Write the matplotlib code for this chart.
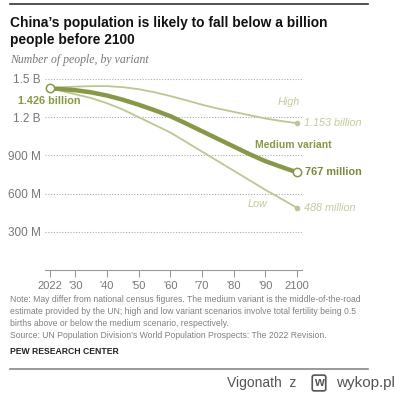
import matplotlib.pyplot as plt

years = [2022, 2025, 2030, 2035, 2040, 2045, 2050, 2055, 2060,
         2065, 2070, 2075, 2080, 2085, 2090, 2095, 2100]
medium = [1.426, 1.422, 1.412, 1.395, 1.37, 1.337, 1.298, 1.255, 1.208,
          1.15, 1.09, 1.03, 0.97, 0.91, 0.855, 0.81, 0.767]
high = [1.426, 1.434, 1.44, 1.444, 1.444, 1.436, 1.42, 1.396, 1.366,
        1.333, 1.298, 1.268, 1.242, 1.216, 1.19, 1.17, 1.153]
low = [1.426, 1.41, 1.38, 1.35, 1.31, 1.26, 1.20, 1.14, 1.08,
       1.005, 0.93, 0.855, 0.78, 0.705, 0.63, 0.56, 0.488]

tick_years = [2022, 2030, 2040, 2050, 2060, 2070, 2080, 2090, 2100]
x_labels = ['2022', "'30", "'40", "'50", "'60", "'70", "'80", "'90", '2100']
y_ticks = [0.3, 0.6, 0.9, 1.2, 1.5]
y_labels = ['300 M', '600 M', '900 M', '1.2 B', '1.5 B']

dark = '#879848'
light = '#bcc692'
light_txt = '#c3cb9b'
gray = '#777777'

plt.rcParams['font.family'] = ['Liberation Sans', 'DejaVu Sans']

fig = plt.figure(figsize=(4.0, 3.93), dpi=100)
ax = fig.add_axes([0.1125, 0.3130, 0.6425, 0.4860])

for v in y_ticks:
    ax.axhline(v, color='#aaaaaa', lw=0.8, ls=(0, (1, 1.5)), zorder=1)

ax.plot(years, high, color=light, lw=1.3, zorder=2)
ax.plot(years, low, color=light, lw=1.3, zorder=2)
ax.plot(years, medium, color=dark, lw=3.2, solid_capstyle='round',
        solid_joinstyle='round', zorder=3)
ax.plot(years[-1], high[-1], 'o', ms=3, color=light, zorder=4)
ax.plot(years[-1], low[-1], 'o', ms=3, color=light, zorder=4)
ax.plot(years[0], medium[0], 'o', ms=6, mfc='white', mec=dark, mew=1.1, zorder=5)
ax.plot(years[-1], medium[-1], 'o', ms=6, mfc='white', mec=dark, mew=1.1, zorder=5)

ax.set_xlim(2020.4, 2101.6)
ax.set_ylim(0, 1.5)
ax.set_xticks(tick_years)
ax.set_xticklabels(x_labels, fontsize=8, color=gray)
ax.set_yticks(y_ticks)
ax.set_yticklabels(y_labels, fontsize=8.5, color=gray)
ax.tick_params(axis='y', length=0, pad=3)
ax.tick_params(axis='x', length=5, color='#999999', pad=3)
for s in ['top', 'right', 'left']:
    ax.spines[s].set_visible(False)
ax.spines['bottom'].set_color('#999999')
ax.spines['bottom'].set_linewidth(0.8)

ax.text(2021.7, 1.327, '1.426 billion', ha='center', va='center', fontsize=7.8,
        fontweight='bold', color=dark)
ax.text(2097.3, 1.317, 'High', ha='center', va='center', fontsize=7.8,
        style='italic', color=light_txt)
ax.text(2102.3, high[-1], '1.153 billion', ha='left', va='center', fontsize=7.8,
        style='italic', color=light_txt, clip_on=False)
ax.text(2098.7, 0.982, 'Medium variant', ha='center', va='center', fontsize=7.5,
        fontweight='bold', color=dark, clip_on=False)
ax.text(2102.6, medium[-1], '767 million', ha='left', va='center', fontsize=7.8,
        fontweight='bold', color='#7a8a3c', clip_on=False)
ax.text(2087.5, 0.522, 'Low', ha='center', va='center', fontsize=7.8,
        style='italic', color=light_txt)
ax.text(2102.3, low[-1], '488 million', ha='left', va='center', fontsize=7.8,
        style='italic', color=light_txt, clip_on=False)

# rules, title, notes
fig.add_artist(plt.Line2D([10 / 400, 368 / 400], [1 - 4 / 393, 1 - 4 / 393],
                          color='#333333', lw=1.2))
fig.add_artist(plt.Line2D([10 / 400, 368 / 400], [1 - 369 / 393, 1 - 369 / 393],
                          color='#888888', lw=1.2))
fig.text(10 / 400, 1 - 23 / 393,
         "China\u2019s population is likely to fall below a billion",
         fontsize=9.9, fontweight='bold', color='#111111', va='center')
fig.text(10 / 400, 1 - 40 / 393, 'people before 2100',
         fontsize=9.9, fontweight='bold', color='#111111', va='center')
fig.text(10 / 400, 1 - 60 / 393, 'Number of people, by variant',
         fontsize=8.5, style='italic', family='Liberation Serif', color=gray,
         va='center')

notes = [
    'Note: May differ from national census figures. The medium variant is the middle-of-the-road',
    'estimate provided by the UN; high and low variant scenarios involve total fertility being 0.5',
    'births above or below the medium scenario, respectively.',
    'Source: UN Population Division\u2019s World Population Prospects: The 2022 Revision.',
]
for i, line in enumerate(notes):
    fig.text(10 / 400, 1 - (300 + i * 11.7) / 393, line, fontsize=6.2,
             color='#808080', va='center')
fig.text(10 / 400, 1 - 351 / 393, 'PEW RESEARCH CENTER', fontsize=6.2,
         fontweight='bold', color='#222222', va='center')

fig.text(296 / 400, 1 - 383 / 393, 'Vigonath  z', fontsize=10, color='#555555',
         ha='right', va='center')
fig.text(1 - 5 / 400, 1 - 383 / 393, 'wykop.pl', fontsize=11, color='#555555',
         ha='right', va='center')
fig.text(319 / 400, 1 - 383 / 393, 'w', fontsize=9, fontweight='bold',
         color='#555555', ha='center', va='center',
         bbox=dict(boxstyle='round,pad=0.15', fc='white', ec='#555555', lw=1.2))

fig.savefig('out.png', dpi=100)
